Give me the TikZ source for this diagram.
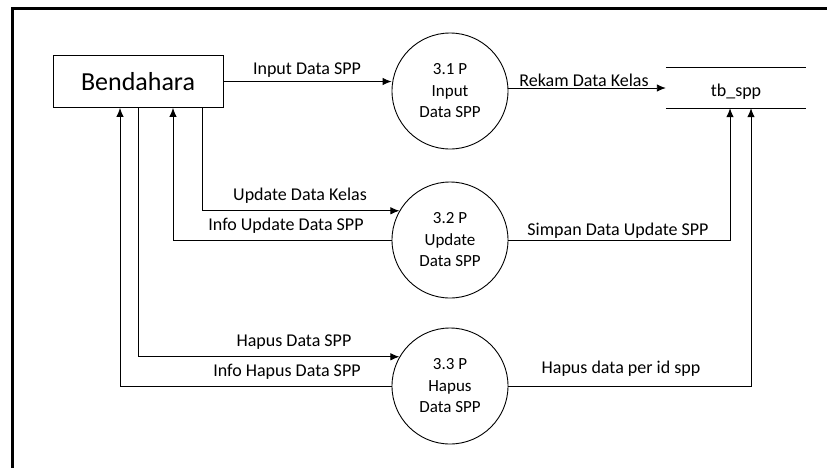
\documentclass[tikz,border=0pt]{standalone}
\usepackage{fontspec}
\setmainfont{Carlito}
\usetikzlibrary{arrows.meta}
\tikzset{
  lbl/.style={anchor=base, inner sep=0pt, font=\fontsize{18}{21.5}\selectfont},
  proc/.style={circle, draw, line width=0.9pt, minimum size=116pt, inner sep=0pt, align=center, font=\fontsize{17}{21.5}\selectfont},
  ent/.style={rectangle, draw, line width=0.9pt, minimum width=170pt, minimum height=52pt, inner sep=0pt, font=\fontsize{26}{30}\selectfont},
  storebox/.style={rectangle, minimum width=140pt, minimum height=40pt, inner sep=0pt},
  flow/.style={line width=0.9pt, -{Latex[length=9pt,width=7.5pt]}},
  plain/.style={line width=0.9pt}
}
\begin{document}
\begin{tikzpicture}[x=1pt,y=-1pt]
\useasboundingbox (0,0) rectangle (827,467);
% frame
\draw[line width=3pt] (12,470) -- (12,8) -- (830,8);
% nodes
\node[ent] (bend) at (138,81.5) {Bendahara};
\node[proc] (p31) at (450,91) {3.1 P\\Input\\Data SPP};
\node[proc] (p32) at (450,240) {3.2 P\\Update\\Data SPP};
\node[proc] (p33) at (450,386) {3.3 P\\Hapus\\Data SPP};
\node[storebox] (tb) at (736,88) {};
\draw[plain] (tb.north west) -- (tb.north east);
\draw[plain] (tb.south west) -- (tb.south east);
\node[lbl] (tbl) at (736,96.5) {tb\_spp};
% connectors
\draw[flow] (bend.east) -- (bend.east -| p31.west);
\draw[flow] (p31.east |- tb.west) -- (tb.west);
\draw[flow] ([xshift=-21pt]bend.south east) |- (p32.150);
\draw[flow] (p32.west) -| ([xshift=35pt]bend.south);
\draw[flow] (p32.east) -| ([xshift=-6pt]tb.south);
\draw[flow] (bend.south) |- (p33.150);
\draw[flow] (p33.west) -| ([xshift=-18pt]bend.south);
\draw[flow] (p33.east) -| ([xshift=15pt]tb.south);
% labels
\node[lbl] (l1) at (307,74) {Input Data SPP};
\node[lbl] (l2) at (584,86) {Rekam Data Kelas};
\node[lbl] (l3) at (300,200) {Update Data Kelas};
\node[lbl] (l4) at (286,230.5) {Info Update Data SPP};
\node[lbl] (l5) at (618,235) {Simpan Data Update SPP};
\node[lbl] (l6) at (294,346.7) {Hapus Data SPP};
\node[lbl] (l7) at (287,376.7) {Info Hapus Data SPP};
\node[lbl] (l8) at (621,373.3) {Hapus data per id spp};
\end{tikzpicture}
\end{document}
